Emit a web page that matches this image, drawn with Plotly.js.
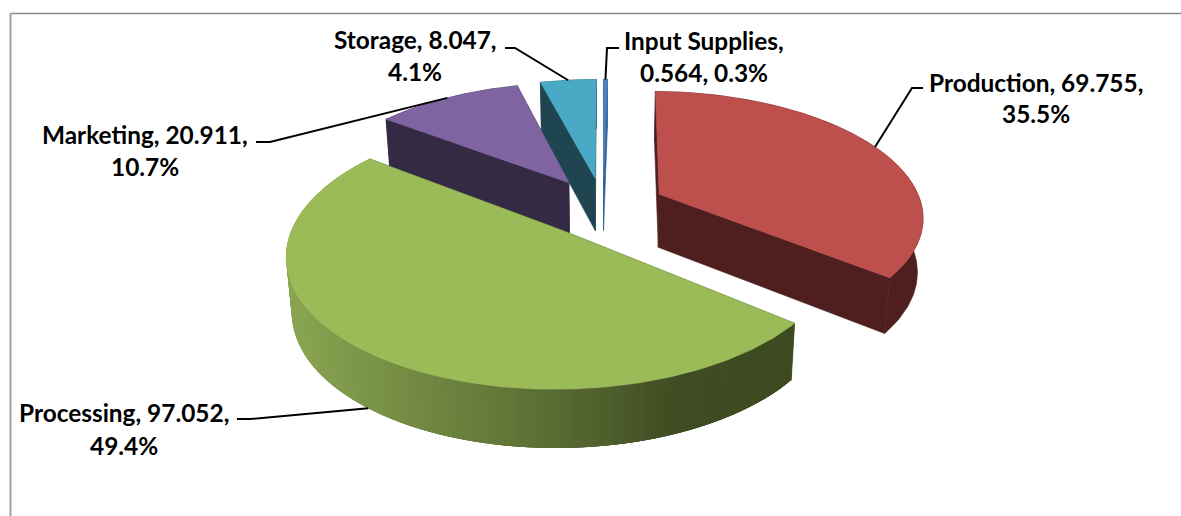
<!DOCTYPE html>
<html>
<head>
<meta charset="utf-8">
<script src="https://cdn.plot.ly/plotly-3.0.1.min.js"></script>
<style>html,body{margin:0;padding:0;background:#fff}#chart{width:1181px;height:516px}</style>
</head>
<body>
<div id="chart"></div>
<script>
// Data (clockwise from 12 o'clock)
const categories = ["Input Supplies", "Production", "Processing", "Marketing", "Storage"];
const values = [0.564, 69.755, 97.052, 20.911, 8.047];
const topColors = ["#4f81bd", "#bd4f4d", "#9bbb59", "#8064a2", "#4aa9c4"];
const sideColors = ["#2f5f94", "#4e1f1e", "#3c4a21", "#342a44", "#1f4650"];
const drawOrder = [0, 4, 3, 1, 2];

// Label layout: line break, centre, the y of both lines, elbow points of the leader
const labelCentreX = [704, 1036, 124, 145, 415];
const labelLineY = [[40, 72], [82, 113], [412, 445], [134, 166], [39, 71]];
const labelBreakAfterValue = [false, true, true, true, true];
const leaderStart = [[619, 48], [923, 88], [237, 419], [256, 142], [505, 48]];
const leaderElbow = [[607, 48], [912, 88], [250, 419], [270, 142], [515, 48]];
const leaderDepth = [0, 0, 1, 0, 0];

// Projection of the tilted pie onto the page
const cx = 603, cy = 206.5, scale = 263, tiltedScale = 123.5, persp = 0.165, explode = 0.24, depth = 53.5, baseShrink = 0.018;
const rad = d => d * Math.PI / 180;

function project(theta, radius, mid, z) {
  const u = radius * Math.sin(rad(theta)) + explode * Math.sin(rad(mid));
  const v = radius * Math.cos(rad(theta)) + explode * Math.cos(rad(mid));
  const w = (1 + persp * v) * (1 + baseShrink * z);
  return [cx + scale * u / w, cy - tiltedScale * v / w + depth * z / (1 + 0.7 * persp * v)];
}
function poly(points, color, lineWidth) {
  return {
    type: "scatter", mode: "lines", x: points.map(p => p[0]), y: points.map(p => p[1]),
    fill: "toself", fillcolor: color, line: {color: color, width: lineWidth === undefined ? 0.6 : lineWidth},
    hoverinfo: "skip", showlegend: false
  };
}
function lerpColor(stops, x) {
  let i = 0;
  while (i < stops.length - 2 && x > stops[i + 1][0]) i++;
  const a = stops[i], b = stops[i + 1];
  const t = Math.max(0, Math.min(1, (x - a[0]) / (b[0] - a[0])));
  const c = [0, 1, 2].map(k => Math.round(a[1][k] + (b[1][k] - a[1][k]) * t));
  return `rgb(${c[0]},${c[1]},${c[2]})`;
}
const gradientStops = [[290, [138, 165, 82]], [380, [120, 146, 70]], [510, [98, 118, 56]], [610, [78, 94, 44]], [680, [63, 76, 33]], [790, [62, 74, 32]]];

const total = values.reduce((a, b) => a + b, 0);
const starts = [];
let acc = 0;
values.forEach(v => { starts.push(acc / total * 360); acc += v; });
const ends = values.map((v, i) => starts[i] + v / total * 360);
const mids = starts.map((s, i) => (s + ends[i]) / 2);

function rim(i, z, step) {
  const pts = [];
  const n = Math.max(2, Math.ceil((ends[i] - starts[i]) / step));
  for (let k = 0; k <= n; k++) pts.push(project(starts[i] + (ends[i] - starts[i]) * k / n, 1, mids[i], z));
  return pts;
}

const traces = [];
drawOrder.forEach(i => {
  const apexT = project(0, 0, mids[i], 0), apexB = project(0, 0, mids[i], 1);
  const top = rim(i, 0, 1), base = rim(i, 1, 1);
  // radial walls
  traces.push(poly([apexT, top[0], base[0], apexB, apexT], sideColors[i]));
  traces.push(poly([apexT, top[top.length - 1], base[base.length - 1], apexB, apexT], sideColors[i]));
  // outer wall
  if (categories[i] === "Processing") {
    for (let k = 0; k + 1 < top.length; k++) {
      const far = Math.min(top.length - 1, k + 4);
      const upper = top.slice(k, far + 1), lower = base.slice(k, far + 1).reverse();
      traces.push(poly(upper.concat(lower).concat([top[k]]), lerpColor(gradientStops, top[k][0]), 0));
    }
  } else {
    traces.push(poly(top.concat(base.slice().reverse()).concat([top[0]]), sideColors[i]));
  }
  // top face
  traces.push(poly([apexT].concat(top).concat([apexT]), topColors[i]));
});

// Leaders run to the rim at the middle of each slice
categories.forEach((c, i) => {
  const end = project(mids[i], 1, mids[i], leaderDepth[i]);
  const pts = [leaderStart[i], leaderElbow[i], end];
  traces.push({
    type: "scatter", mode: "lines", x: pts.map(p => p[0]), y: pts.map(p => p[1]),
    line: {color: "#000000", width: 2}, hoverinfo: "skip", showlegend: false
  });
});

const annotations = [];
categories.forEach((c, i) => {
  const val = values[i].toFixed(3), pct = (values[i] / total * 100).toFixed(1) + "%";
  const lines = labelBreakAfterValue[i] ? [`${c}, ${val},`, pct] : [`${c},`, `${val}, ${pct}`];
  lines.forEach((t, j) => annotations.push({
    x: labelCentreX[i], y: labelLineY[i][j], xref: "x", yref: "y", text: t, showarrow: false,
    xanchor: "center", yanchor: "middle", font: {family: "Lato, sans-serif", size: 24.4, color: "#000000", weight: 700}
  }));
});

const layout = {
  width: 1181, height: 516, margin: {l: 0, r: 0, t: 0, b: 0},
  paper_bgcolor: "#ffffff", plot_bgcolor: "#ffffff", showlegend: false,
  xaxis: {range: [0, 1181], visible: false, fixedrange: true},
  yaxis: {range: [516, 0], visible: false, fixedrange: true},
  annotations,
  shapes: [
    {type: "line", xref: "paper", yref: "paper", x0: 10.5 / 1181, x1: 1, y0: 1 - 13.5 / 516, y1: 1 - 13.5 / 516, line: {color: "#8c8c8c", width: 1.5}},
    {type: "line", xref: "paper", yref: "paper", x0: 10.5 / 1181, x1: 10.5 / 1181, y0: 0, y1: 1 - 13.5 / 516, line: {color: "#a0a0a0", width: 2}}
  ]
};
Plotly.newPlot("chart", traces, layout, {displayModeBar: false, staticPlot: true});
</script>
</body>
</html>
